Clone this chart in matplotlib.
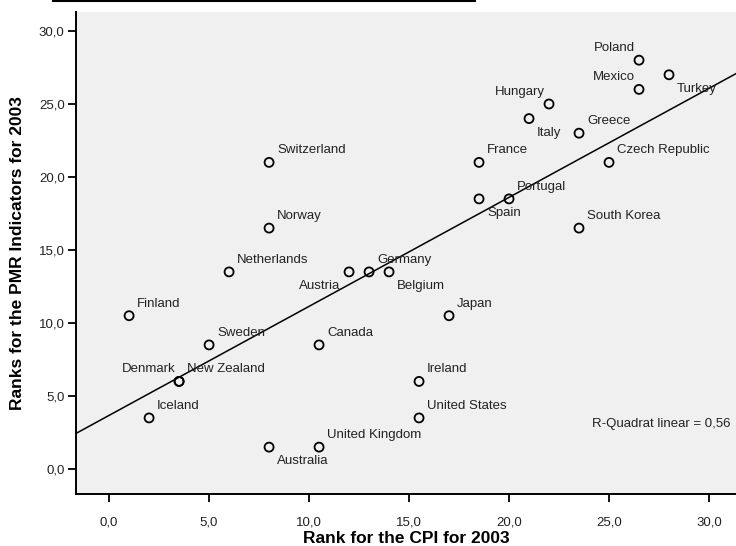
import numpy as np
import matplotlib
matplotlib.use("Agg")
from matplotlib import pyplot as plt
from matplotlib.lines import Line2D
from matplotlib.ticker import FuncFormatter

plt.rcParams['font.family'] = ['Liberation Sans', 'DejaVu Sans']

## Data
countries = ["Poland", "Turkey", "Mexico", "Hungary", "Italy", "Greece", "France",
             "Czech Republic", "Spain", "Portugal", "South Korea", "Switzerland",
             "Norway", "Netherlands", "Austria", "Germany", "Belgium", "Japan",
             "Finland", "Sweden", "Canada", "Denmark", "New Zealand", "Ireland",
             "Iceland", "United States", "Australia", "United Kingdom"]
cpi_rank = [26.5, 28.0, 26.5, 22.0, 21.0, 23.5, 18.5,
            25.0, 18.5, 20.0, 23.5, 8.0,
            8.0, 6.0, 12.0, 13.0, 14.0, 17.0,
            1.0, 5.0, 10.5, 3.5, 3.5, 15.5,
            2.0, 15.5, 8.0, 10.5]
pmr_rank = [28.0, 27.0, 26.0, 25.0, 24.0, 23.0, 21.0,
            21.0, 18.5, 18.5, 16.5, 21.0,
            16.5, 13.5, 13.5, 13.5, 13.5, 10.5,
            10.5, 8.5, 8.5, 6.0, 6.0, 6.0,
            3.5, 3.5, 1.5, 1.5]
r_squared = 0.56
x_ticks = [0, 5, 10, 15, 20, 25, 30]
y_ticks = [0, 5, 10, 15, 20, 25, 30]

# where each label sits relative to its point (ur/ul = above right/left, lr/ll = below)
label_side = {"Poland": "ul", "Mexico": "ul", "Hungary": "ul", "Denmark": "ul",
              "Turkey": "lr", "Italy": "lr", "Spain": "lr", "Belgium": "lr",
              "Australia": "lr", "Austria": "ll"}
px = 0.72  # points per pixel at dpi 100
offsets = {"ur": (8 * px, 12 * px, "left"), "ul": (-4 * px, 12 * px, "right"),
           "lr": (8 * px, -14 * px, "left"), "ll": (-9 * px, -14 * px, "right")}

fig = plt.figure(figsize=(7.36, 5.46), dpi=100)
ax = fig.add_axes([75.7 / 736, 52 / 546, 1 - 75.7 / 736, 482 / 546])
ax.set_facecolor("#f0f0f0")

# fit line
x = np.array(cpi_rank)
y = np.array(pmr_rank)
slope, intercept = np.polyfit(x, y, 1)
xl = np.array([-5, 40])
ax.plot(xl, intercept + slope * xl, color="black", lw=1.1, zorder=2)

ax.scatter(x, y, s=42, facecolors="none", edgecolors="black", linewidths=1.3, zorder=3)

for name, cx, cy in zip(countries, cpi_rank, pmr_rank):
    dx, dy, ha = offsets[label_side.get(name, "ur")]
    ax.annotate(name, (cx, cy), xytext=(dx, dy), textcoords="offset points",
                ha=ha, va="center", fontsize=9.5, color="#222222", zorder=4)

ax.text(0.992, 0.145, "R-Quadrat linear = " + ("%.2f" % r_squared).replace(".", ","),
        transform=ax.transAxes, ha="right", va="center", fontsize=9.5, color="#222222")

ax.set_xlim(-1.67, 31.35)
ax.set_ylim(-1.71, 31.3)
ax.set_xticks(x_ticks)
ax.set_yticks(y_ticks)
fmt = FuncFormatter(lambda v, p: ("%.1f" % v).replace(".", ","))
ax.xaxis.set_major_formatter(fmt)
ax.yaxis.set_major_formatter(fmt)
ax.tick_params(direction="out", length=6, width=1.3, labelsize=9.5, colors="black",
               labelcolor="#222222")
ax.tick_params(axis="x", pad=10)
ax.tick_params(axis="y", pad=2)
for s in ["top", "right"]:
    ax.spines[s].set_visible(False)
for s in ["left", "bottom"]:
    ax.spines[s].set_linewidth(1.4)

ax.set_xlabel("Rank for the CPI for 2003", fontsize=12.5, fontweight="bold", labelpad=2)
ax.set_ylabel("Ranks for the PMR Indicators for 2003", fontsize=12.5, fontweight="bold",
              labelpad=10)

# underline of the cut-off title at the top
fig.add_artist(Line2D([53 / 736, 475 / 736], [1 - 1 / 546, 1 - 1 / 546],
                      color="black", lw=1.5))

fig.savefig("out.png", dpi=100)
